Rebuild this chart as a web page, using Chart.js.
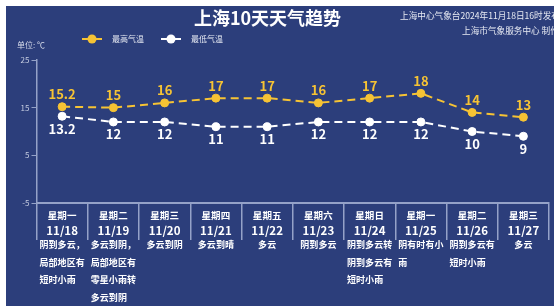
<!DOCTYPE html>
<html><head><meta charset="utf-8">
<script src="https://cdn.jsdelivr.net/npm/chart.js@4/dist/chart.umd.min.js"></script>
<style>html,body{margin:0;padding:0;background:#fff;}#wrap{width:554px;height:306px;}</style>
</head><body><div id="wrap"><canvas id="c" width="554" height="306"></canvas></div>
<script>
const categories = ['11/18','11/19','11/20','11/21','11/22','11/23','11/24','11/25','11/26','11/27'];
const weekdays = ['星期一','星期二','星期三','星期四','星期五','星期六','星期日','星期一','星期二','星期三'];
const highTemps = [15.2, 15, 16, 17, 17, 16, 17, 18, 14, 13];
const lowTemps = [13.2, 12, 12, 11, 11, 12, 12, 12, 10, 9];
const descriptions = [
  ['阴到多云，','局部地区有','短时小雨'],
  ['多云到阴，','局部地区有','零星小雨转','多云到阴'],
  ['多云到阴'],
  ['多云到晴'],
  ['多云'],
  ['阴到多云'],
  ['阴到多云转','阴到多云有','短时小雨'],
  ['阴有时有小','雨'],
  ['阴到多云有','短时小雨'],
  ['多云']
];
const yTicks = [-5, 5, 15, 25];
const seriesNames = ['最高气温','最低气温'];
const titleText = '上海10天天气趋势';
const issueText = '上海中心气象台2024年11月18日16时发布';
const makerText = '上海市气象服务中心 制作';
const unitText = '单位: ℃';

const BG = '#2c3e7b';
const YELLOW = '#f6c334';
const WHITE = '#ffffff';
const AXIS = '#95a2c8';
const FONT = '"Noto Sans CJK SC", "Noto Sans", sans-serif';

const deco = {
  id: 'deco',
  beforeDraw(chart) {
    const ctx = chart.ctx;
    ctx.save();
    ctx.fillStyle = '#ffffff';
    ctx.fillRect(0, 0, chart.width, chart.height);
    ctx.fillStyle = BG;
    ctx.fillRect(6, 6, chart.width - 6, chart.height - 6);
    ctx.restore();
  },
  afterDraw(chart) {
    const ctx = chart.ctx;
    const xs = chart.scales.x;
    ctx.save();
    ctx.fillStyle = WHITE;
    ctx.textBaseline = 'middle';
    ctx.textAlign = 'center';
    ctx.font = 'bold 18px ' + FONT;
    ctx.fillText(titleText, 267.5, 18.5);
    ctx.textAlign = 'left';
    ctx.font = '8.65px ' + FONT;
    ctx.fillStyle = '#e6e9f2';
    ctx.fillText(issueText, 400, 16);
    ctx.fillText(makerText, 462, 31);
    ctx.font = '8px ' + FONT;
    ctx.fillStyle = '#d6dbea';
    ctx.fillText(unitText, 17, 45);
    const legendItems = [
      {x: 82, color: chart.data.datasets[0].borderColor, text: chart.data.datasets[0].label},
      {x: 161, color: chart.data.datasets[1].borderColor, text: chart.data.datasets[1].label}
    ];
    legendItems.forEach(it => {
      ctx.strokeStyle = it.color;
      ctx.lineWidth = 2;
      ctx.beginPath(); ctx.moveTo(it.x, 39); ctx.lineTo(it.x + 20, 39); ctx.stroke();
      ctx.fillStyle = it.color;
      ctx.beginPath(); ctx.arc(it.x + 10, 39, 4.5, 0, Math.PI * 2); ctx.fill();
      ctx.fillStyle = '#e6e9f2';
      ctx.font = '8px ' + FONT;
      ctx.textAlign = 'left';
      ctx.fillText(it.text, it.x + 30, 39);
    });
    categories.forEach((cat, i) => {
      const cx = xs.getPixelForValue(i);
      ctx.fillStyle = WHITE;
      ctx.textAlign = 'center';
      ctx.font = 'bold 9.5px ' + FONT;
      ctx.fillText(weekdays[i], cx, 215.5);
      ctx.font = 'bold 11.5px ' + FONT;
      ctx.fillText(cat, cx, 231);
      ctx.font = 'bold 9px ' + FONT;
      const lines = descriptions[i];
      let maxW = 0;
      lines.forEach(l => { maxW = Math.max(maxW, ctx.measureText(l).width); });
      const left = cx - maxW / 2;
      ctx.textAlign = 'left';
      lines.forEach((l, j) => ctx.fillText(l, left, 245 + j * 17.4));
    });
    const m0 = chart.getDatasetMeta(0), m1 = chart.getDatasetMeta(1);
    ctx.textAlign = 'center';
    ctx.font = 'bold 13px ' + FONT;
    ctx.fillStyle = YELLOW;
    m0.data.forEach((p, i) => ctx.fillText(String(highTemps[i]), p.x, p.y - 12.5));
    ctx.fillStyle = WHITE;
    m1.data.forEach((p, i) => ctx.fillText(String(lowTemps[i]), p.x, p.y + 12.5));
    ctx.restore();
  }
};

new Chart(document.getElementById('c'), {
  type: 'line',
  data: {
    labels: categories,
    datasets: [
      {label: seriesNames[0], data: highTemps, borderColor: YELLOW, backgroundColor: YELLOW,
       borderWidth: 2, borderDash: [8, 5], pointRadius: 4, pointBorderWidth: 1,
       pointBackgroundColor: YELLOW, pointBorderColor: YELLOW, tension: 0},
      {label: seriesNames[1], data: lowTemps, borderColor: WHITE, backgroundColor: WHITE,
       borderWidth: 2, borderDash: [8, 5], pointRadius: 4, pointBorderWidth: 1,
       pointBackgroundColor: WHITE, pointBorderColor: WHITE, tension: 0}
    ]
  },
  options: {
    responsive: false,
    animation: false,
    events: [],
    layout: {padding: {top: 60, left: 0, right: 0, bottom: 0}},
    plugins: {legend: {display: false}, title: {display: false}, tooltip: {enabled: false}},
    scales: {
      x: {
        type: 'category',
        offset: true,
        grid: {offset: true, drawOnChartArea: false, drawTicks: true, tickLength: 37, color: AXIS, lineWidth: 1.5},
        border: {display: true, color: AXIS, width: 2},
        ticks: {display: false},
        afterFit(s) { s.height = 103; }
      },
      y: {
        min: Math.min(...yTicks), max: Math.max(...yTicks),
        afterBuildTicks(s) { s.ticks = yTicks.map(v => ({value: v})); },
        grid: {drawOnChartArea: false, drawTicks: true, tickLength: 5, color: AXIS, lineWidth: 1},
        border: {display: true, color: AXIS, width: 1.5},
        ticks: {color: '#c4cbe0', font: {size: 8, family: FONT}, padding: 2},
        afterFit(s) { s.width = 36.5; }
      }
    }
  },
  plugins: [deco]
});
</script></body></html>
